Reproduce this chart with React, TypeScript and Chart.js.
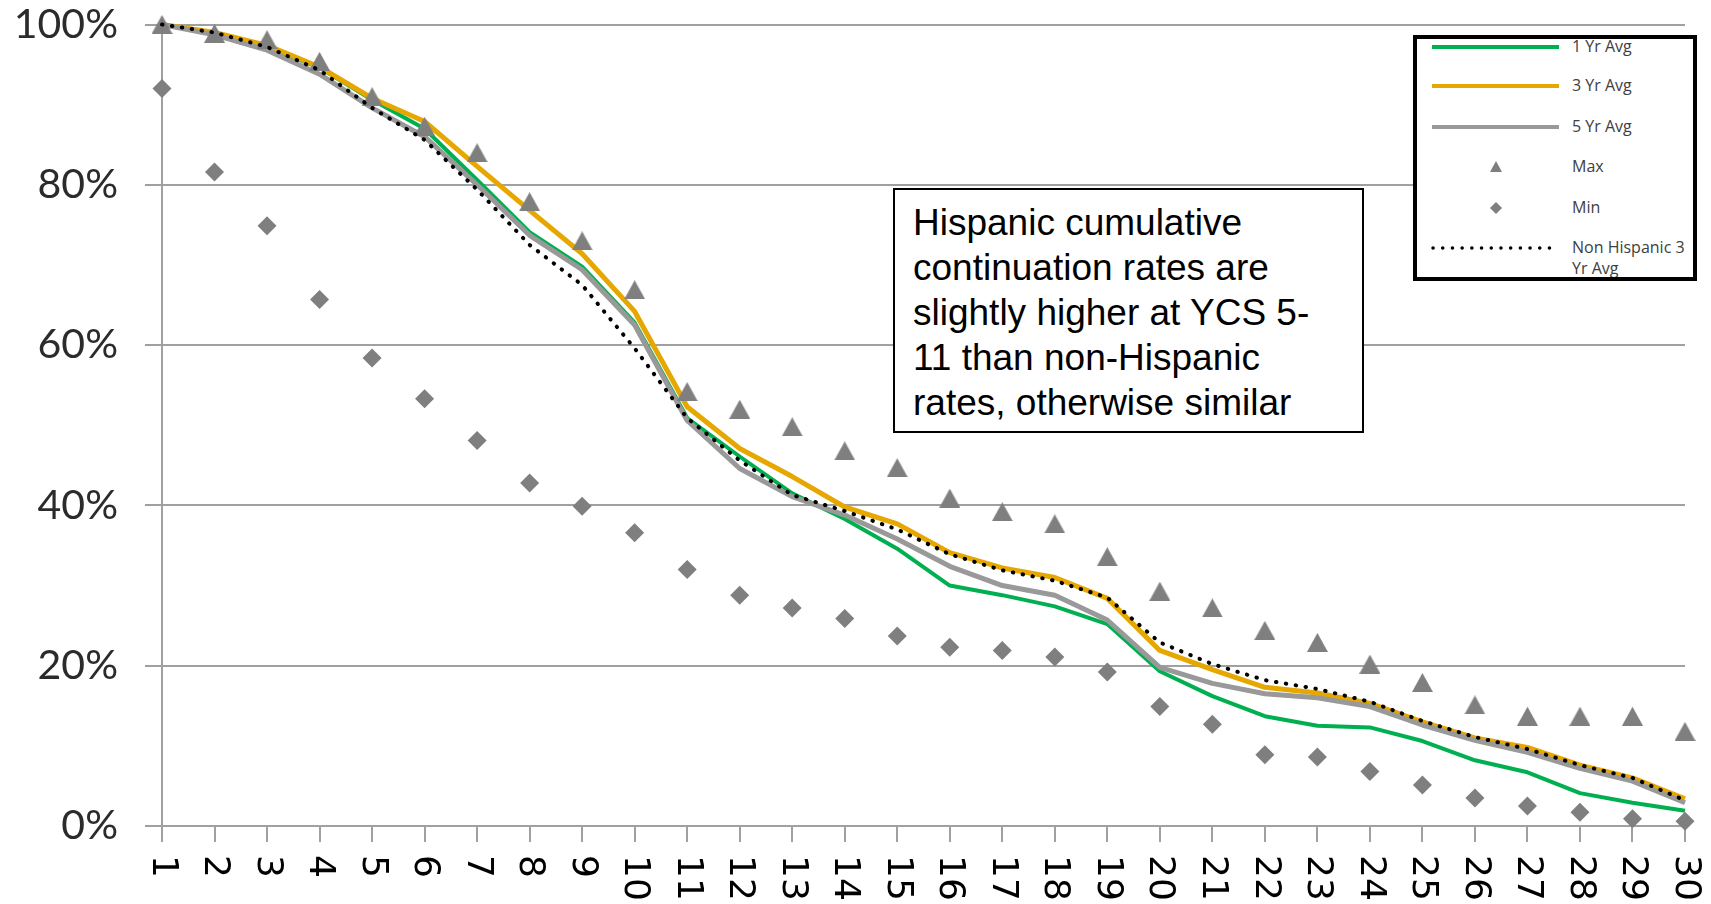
import React, { useEffect, useRef } from 'react';
import { Chart, registerables } from 'chart.js';

Chart.register(...registerables);

const categories = ['1','2','3','4','5','6','7','8','9','10','11','12','13','14','15','16','17','18','19','20','21','22','23','24','25','26','27','28','29','30'];
const yTickValues = [0, 20, 40, 60, 80, 100];

const oneYrAvg = [100, 99.0, 97.2, 94.6, 90.6, 87.0, 80.6, 74.1, 69.8, 62.8, 50.9, 46.1, 41.5, 38.3, 34.6, 30.0, 28.8, 27.4, 25.2, 19.3, 16.2, 13.7, 12.5, 12.3, 10.6, 8.2, 6.7, 4.1, 2.9, 1.9];
const threeYrAvg = [100, 99.0, 97.4, 94.7, 90.8, 87.9, 82.3, 76.8, 71.4, 64.2, 52.3, 47.1, 43.6, 39.8, 37.7, 34.1, 32.2, 31.0, 28.4, 21.9, 19.5, 17.3, 16.6, 15.3, 13.0, 11.0, 9.8, 7.6, 6.0, 3.4];
const fiveYrAvg = [100, 98.7, 96.8, 93.8, 89.6, 86.0, 80.0, 73.7, 69.4, 62.5, 50.6, 44.6, 41.1, 38.8, 35.8, 32.4, 30.0, 28.8, 25.7, 19.8, 17.8, 16.5, 16.0, 14.9, 12.6, 10.7, 9.2, 7.2, 5.6, 2.9];
const maxValues = [100, 98.9, 98.1, 95.4, 91.0, 87.3, 84.0, 77.9, 73.0, 66.9, 54.2, 52.0, 49.8, 46.8, 44.7, 40.9, 39.2, 37.7, 33.6, 29.3, 27.2, 24.4, 22.9, 20.2, 17.9, 15.1, 13.7, 13.7, 13.7, 11.8];
const minValues = [92.0, 81.6, 74.9, 65.7, 58.4, 53.3, 48.1, 42.8, 39.9, 36.6, 32.0, 28.8, 27.2, 25.9, 23.7, 22.3, 21.9, 21.1, 19.2, 14.9, 12.7, 8.9, 8.6, 6.8, 5.1, 3.5, 2.5, 1.7, 0.9, 0.6];
const nonHispanic3YrAvg = [100, 99.0, 97.2, 94.3, 89.6, 85.6, 79.4, 72.5, 67.5, 59.6, 50.9, 45.6, 41.3, 39.3, 37.0, 33.9, 31.9, 30.6, 28.5, 22.9, 20.2, 18.2, 17.1, 15.5, 13.1, 11.1, 9.6, 7.6, 6.0, 3.2];

const seriesNames = ['1 Yr Avg', '3 Yr Avg', '5 Yr Avg', 'Max', 'Min', 'Non Hispanic 3 Yr Avg'];
const annotationLines = ['Hispanic cumulative', 'continuation rates are', 'slightly higher at YCS 5-', '11 than non-Hispanic', 'rates, otherwise similar'];

const GREEN = '#00B050';
const GOLD = '#E6A800';
const GRAYLINE = '#999999';
const MARKER = '#7f7f7f';
const GRID = '#a0a0a0';

const xLabelPlugin = {
  id: 'rotatedXLabels',
  afterDraw(chart: any) {
    const ctx = chart.ctx;
    const xs = chart.scales.x;
    ctx.save();
    ctx.font = '36px "DejaVu Sans", sans-serif';
    ctx.fillStyle = '#000';
    ctx.textAlign = 'left';
    ctx.textBaseline = 'middle';
    const top = xs.top + 29;
    categories.forEach((lab, i) => {
      const x = xs.getPixelForTick(i);
      ctx.save();
      ctx.translate(x, top);
      ctx.rotate(Math.PI / 2);
      ctx.fillText(lab, 0, 0);
      ctx.restore();
    });
    ctx.restore();
  },
};

export default function App() {
  const ref = useRef<HTMLCanvasElement>(null);

  useEffect(() => {
    const tri = document.createElement('canvas');
    tri.width = 21;
    tri.height = 19;
    const tctx = tri.getContext('2d')!;
    tctx.fillStyle = MARKER;
    tctx.beginPath();
    tctx.moveTo(0, 19);
    tctx.lineTo(10.5, 0);
    tctx.lineTo(21, 19);
    tctx.closePath();
    tctx.fill();

    const chart = new Chart(ref.current!, {
      type: 'line',
      data: {
        labels: categories,
        datasets: [
          { label: seriesNames[0], data: oneYrAvg, borderColor: GREEN, borderWidth: 4, pointRadius: 0, order: 6, clip: false, borderJoinStyle: 'round', tension: 0 },
          { label: seriesNames[1], data: threeYrAvg, borderColor: GOLD, borderWidth: 5, pointRadius: 0, order: 5, clip: false, borderJoinStyle: 'round', tension: 0 },
          { label: seriesNames[2], data: fiveYrAvg, borderColor: GRAYLINE, borderWidth: 5, pointRadius: 0, order: 4, clip: false, borderJoinStyle: 'round', tension: 0 },
          { label: seriesNames[3], data: maxValues, showLine: false, pointStyle: tri as any, pointRadius: 10, backgroundColor: MARKER, borderColor: MARKER, pointBorderWidth: 0, order: 3, clip: false },
          { label: seriesNames[4], data: minValues, showLine: false, pointStyle: 'rectRot', pointRadius: 9.5, backgroundColor: MARKER, borderColor: MARKER, pointBorderWidth: 0, order: 2, clip: false },
          { label: seriesNames[5], data: nonHispanic3YrAvg, borderColor: '#000', borderWidth: 4, borderDash: [0.5, 9.5], borderCapStyle: 'round', pointRadius: 0, order: 1, clip: false, tension: 0 },
        ] as any,
      },
      options: {
        animation: false,
        responsive: false,
        layout: { padding: { top: 24.5, right: 26, left: 0, bottom: 0 }, autoPadding: false },
        plugins: { legend: { display: false }, tooltip: { enabled: false } },
        scales: {
          x: {
            type: 'category',
            offset: false,
            grid: { drawOnChartArea: false, drawTicks: true, tickLength: 16, color: GRID, lineWidth: 2 },
            border: { display: true, color: GRID, width: 2 },
            ticks: { color: 'rgba(0,0,0,0)', autoSkip: false, maxRotation: 0, minRotation: 0, font: { size: 12 } },
            afterFit: (s: any) => { s.height = 78; s.paddingLeft = 0; s.paddingRight = 0; },
          },
          y: {
            min: yTickValues[0],
            max: yTickValues[yTickValues.length - 1],
            afterBuildTicks: (s: any) => { s.ticks = yTickValues.map((v) => ({ value: v })); },
            ticks: {
              callback: (v: any) => v + '%',
              color: '#2b2b2b',
              font: { family: 'Lato', size: 41 },
              padding: 27,
            },
            grid: { color: GRID, lineWidth: 2, tickLength: 17, drawTicks: true },
            border: { display: true, color: GRID, width: 2 },
            afterFit: (s: any) => { s.width = 162; s.paddingTop = 0; s.paddingBottom = 0; },
          },
        },
      } as any,
      plugins: [xLabelPlugin],
    });
    return () => chart.destroy();
  }, []);

  const legendRows = [
    { y: 8, kind: 'line', color: GREEN, w: 4 },
    { y: 47, kind: 'line', color: GOLD, w: 4 },
    { y: 88, kind: 'line', color: GRAYLINE, w: 4 },
    { y: 128, kind: 'tri' },
    { y: 169, kind: 'dia' },
    { y: 209, kind: 'dot' },
  ];

  return (
    <div style={{ position: 'fixed', left: 0, top: 0, width: 1711, height: 904, background: '#fff', overflow: 'hidden' }}>
      <canvas ref={ref} width={1711} height={904} style={{ position: 'absolute', left: 0, top: 0, width: 1711, height: 904 }} />
      <div
        style={{
          position: 'absolute', left: 893, top: 188, width: 471, height: 245, boxSizing: 'border-box',
          border: '2px solid #000', background: '#fff', padding: '10px 0 0 18px',
          fontFamily: '"Liberation Sans", Arial, sans-serif', fontSize: 37, lineHeight: '45px', color: '#000', whiteSpace: 'nowrap',
        }}
      >
        {annotationLines.map((l, i) => (<div key={i}>{l}</div>))}
      </div>
      <div
        style={{
          position: 'absolute', left: 1413, top: 35, width: 284, height: 246, boxSizing: 'border-box',
          border: '4px solid #000', background: '#fff', overflow: 'hidden',
          fontFamily: '"Open Sans", sans-serif', fontSize: 16, color: '#404040',
        }}
      >
        <svg width={276} height={238} style={{ position: 'absolute', left: 0, top: 0 }}>
          {legendRows.map((r, i) => {
            if (r.kind === 'line') return <line key={i} x1={15} x2={142} y1={r.y} y2={r.y} stroke={r.color} strokeWidth={r.w} />;
            if (r.kind === 'tri') return <polygon key={i} points={`${79 - 6},${r.y + 5} ${79},${r.y - 6} ${79 + 6},${r.y + 5}`} fill={MARKER} />;
            if (r.kind === 'dia') return <polygon key={i} points={`${79 - 6},${r.y} ${79},${r.y - 6} ${79 + 6},${r.y} ${79},${r.y + 6}`} fill={MARKER} />;
            return <line key={i} x1={16} x2={142} y1={r.y} y2={r.y} stroke="#000" strokeWidth={3.5} strokeDasharray="0.1 9.6" strokeLinecap="round" />;
          })}
        </svg>
        {seriesNames.map((n, i) => (
          <div key={i} style={{ position: 'absolute', left: 155, top: legendRows[i].y - 11, lineHeight: '21px', width: 118, whiteSpace: 'normal' }}>
            {n}
          </div>
        ))}
      </div>
    </div>
  );
}
